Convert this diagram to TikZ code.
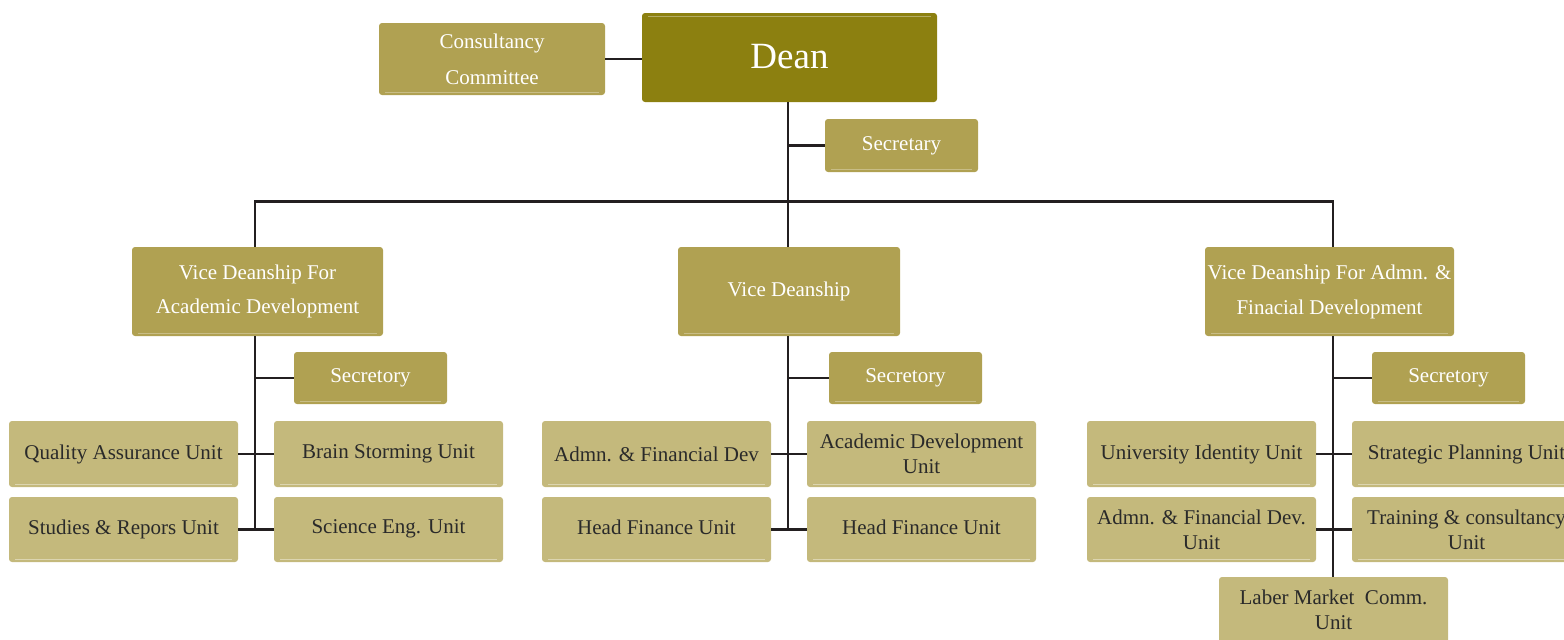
\documentclass[tikz,border=0pt]{standalone}
\usepackage{fontspec}
\setmainfont{Liberation Serif}
\usetikzlibrary{calc}
\definecolor{deancol}{HTML}{8C8010}
\definecolor{midcol}{HTML}{B0A152}
\definecolor{lightcol}{HTML}{C4B97C}
\definecolor{linecol}{HTML}{231F20}
\definecolor{darktext}{HTML}{2A2A2A}
\tikzset{
  box/.style={rectangle, rounded corners=3pt, inner sep=0pt, align=center,
    font=\fontsize{21}{25}\selectfont},
  headbox/.style={box, fill=deancol, text=white, font=\fontsize{37}{40}\selectfont,
    path picture={\draw[white!35!deancol, line width=1pt]
      ($(path picture bounding box.north west)+(6,3)$) -- ($(path picture bounding box.north east)+(-6,3)$);}},
  midbox/.style={box, fill=midcol, text=white,
    path picture={\draw[white!30!midcol, line width=1pt]
      ($(path picture bounding box.south west)+(6,-3)$) -- ($(path picture bounding box.south east)+(-6,-3)$);}},
  unitbox/.style={box, fill=lightcol, text=darktext, minimum width=229pt, minimum height=66pt,
    path picture={\draw[white!40!lightcol, line width=1pt]
      ($(path picture bounding box.south west)+(6,-3)$) -- ($(path picture bounding box.south east)+(-6,-3)$);}},
  link/.style={draw=linecol, line width=2.8pt},
}
\begin{document}
\begin{tikzpicture}[x=1pt, y=-1pt]
\useasboundingbox (0,0) rectangle (1564,640);
\begin{scope}
\clip (0,0) rectangle (1564,640);

% trunk positions of the three branches
\coordinate (tl) at (255,0);
\coordinate (tm) at (788,0);
\coordinate (tr) at (1333,0);

% top level
\node[headbox, minimum width=295pt, minimum height=89pt] (dean) at (789.5,57.5) {\raisebox{3pt}{Dean}};
\node[midbox, minimum width=226pt, minimum height=72pt] (cons) at (492,59)
  {Consultancy\\[11pt]Committee};
\node[midbox, minimum width=153pt, minimum height=53pt] (sec) at (901.5,145.5) {Secretary};

% vice deanships
\node[midbox, minimum width=251pt, minimum height=89pt] (vda) at (257.5,291.5)
  {Vice Deanship For\\[9pt]Academic Development};
\node[midbox, minimum width=222pt, minimum height=89pt] (vdm) at (789,291.5) {Vice Deanship};
\node[midbox, minimum width=249pt, minimum height=89pt] (vdr) at (1329.5,291.5)
  {Vice Deanship For Admn. \&\\[10pt]Finacial Development};

% secretaries of the vice deanships
\node[midbox, minimum width=153pt, minimum height=52pt] (seca) at (370.5,378) {Secretory};
\node[midbox, minimum width=153pt, minimum height=52pt] (secm) at (905.5,378) {Secretory};
\node[midbox, minimum width=153pt, minimum height=52pt] (secr) at (1448.5,378) {Secretory};

% units: academic development
\node[unitbox] (qa) at (123.5,454) {Quality Assurance Unit};
\node[unitbox] (bs) at (388.5,454) {\raisebox{3pt}{Brain Storming Unit}};
\node[unitbox, minimum height=65pt] (sr) at (123.5,529.5) {Studies \& Repors Unit};
\node[unitbox, minimum height=65pt] (se) at (388.5,529.5) {\raisebox{5pt}{Science Eng. Unit}};

% units: vice deanship
\node[unitbox] (afd) at (656.5,454) {Admn. \& Financial Dev};
\node[unitbox] (adu) at (921.5,454) {Academic Development\\Unit};
\node[unitbox, minimum height=65pt] (hf1) at (656.5,529.5) {\raisebox{5pt}{Head Finance Unit}};
\node[unitbox, minimum height=65pt] (hf2) at (921.5,529.5) {\raisebox{5pt}{Head Finance Unit}};

% units: administration and finance
\node[unitbox] (uid) at (1201.5,454) {University Identity Unit};
\node[unitbox] (spu) at (1466.5,454) {Strategic Planning Unit};
\node[unitbox, minimum height=65pt] (afdu) at (1201.5,529.5) {Admn. \& Financial Dev.\\Unit};
\node[unitbox, minimum height=65pt] (tcu) at (1466.5,529.5) {Training \& consultancy\\Unit};
\node[unitbox, minimum height=66pt] (lmc) at (1333.5,610) {Laber Market\ \ Comm.\\Unit};

% connectors
\draw[link] (cons.east) -- (cons.east -| dean.west);
\draw[link] (tm |- dean.south) -- (tm |- vdm.north);
\draw[link] (sec.west) -- (tm |- sec.west);
\draw[link] (tl |- vda.north) -- ++(0,-45) coordinate (busl) -| (tr |- vdr.north);

\draw[link] (tl |- vda.south) -- (tl |- sr.east);
\draw[link] (seca.west) -- (tl |- seca.west);
\draw[link] (qa.east) -- (bs.west);
\draw[link] (sr.east) -- (se.west);

\draw[link] (tm |- vdm.south) -- (tm |- hf1.east);
\draw[link] (secm.west) -- (tm |- secm.west);
\draw[link] (afd.east) -- (adu.west);
\draw[link] (hf1.east) -- (hf2.west);

\draw[link] (tr |- vdr.south) -- (tr |- lmc.north);
\draw[link] (secr.west) -- (tr |- secr.west);
\draw[link] (uid.east) -- (spu.west);
\draw[link] (afdu.east) -- (tcu.west);
\end{scope}
\end{tikzpicture}
\end{document}
